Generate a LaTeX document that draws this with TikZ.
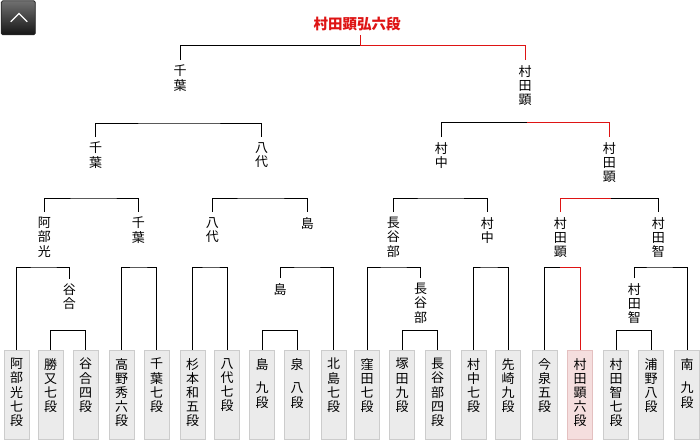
\documentclass[tikz,border=0pt]{standalone}
\usepackage{fontspec}
\usetikzlibrary{calc}
\newfontfamily\jp{Noto Sans CJK JP}
\definecolor{winred}{RGB}{222,20,20}
\definecolor{boxfill}{RGB}{235,235,235}
\definecolor{boxline}{RGB}{204,204,204}
\definecolor{hlfill}{RGB}{245,222,222}
\definecolor{hlline}{RGB}{228,192,192}
\tikzset{
  bline/.style={draw=black, line width=1pt},
  rline/.style={draw=winred, line width=1pt},
  lbl/.style={font=\jp\fontsize{13}{14.2}\selectfont, align=center, inner xsep=0pt, inner ysep=5pt, anchor=north},
  leaf/.style={draw=boxline, fill=boxfill, minimum width=25pt, minimum height=89pt, inner sep=0pt, anchor=north, line width=0.8pt},
  hleaf/.style={leaf, draw=hlline, fill=hlfill},
  ltext/.style={font=\jp\fontsize{13}{14.2}\selectfont, align=center, inner sep=0pt, anchor=north},
  champ/.style={font=\jp\bfseries\fontsize{14.5}{16}\selectfont, text=winred, inner xsep=0pt, inner ysep=4pt},
  btn/.style={draw=black!85, rounded corners=1.5pt, minimum width=34pt, minimum height=34pt, top color={rgb,255:red,112;green,112;blue,112}, bottom color={rgb,255:red,22;green,22;blue,22}, line width=0.8pt}
}
\begin{document}
\begin{tikzpicture}[x=1pt,y=-1pt]
\useasboundingbox (0,0) rectangle (700,440);
% button
\node[btn] (btn) at (18.3,17.8) {};
\draw[white, line width=1.2pt] ($(btn.center)+(-7.6,4)$) -- ($(btn.center)+(0.7,-4.4)$) -- ($(btn.center)+(9,4)$);
% champion
\node[champ] (champ) at (357,24) {村田顕弘六段};
% leaves
\node[leaf] (b0) at (16.5,350) {};
\node[leaf] (b1) at (50.5,350) {};
\node[leaf] (b2) at (85.5,350) {};
\node[leaf] (b3) at (121.5,350) {};
\node[leaf] (b4) at (156.5,350) {};
\node[leaf] (b5) at (192.5,350) {};
\node[leaf] (b6) at (227,350) {};
\node[leaf] (b7) at (262,350) {};
\node[leaf] (b8) at (297,350) {};
\node[leaf] (b9) at (333.5,350) {};
\node[leaf] (b10) at (367,350) {};
\node[leaf] (b11) at (402,350) {};
\node[leaf] (b12) at (437.5,350) {};
\node[leaf] (b13) at (473.5,350) {};
\node[leaf] (b14) at (508,350) {};
\node[leaf] (b15) at (544.5,350) {};
\node[hleaf] (b16) at (580,350) {};
\node[leaf] (b17) at (616,350) {};
\node[leaf] (b18) at (651,350) {};
\node[leaf] (b19) at (687,350) {};
\node[ltext] (t0) at (16.5,358) {阿\\部\\光\\七\\段};
\node[ltext] (t1) at (50.5,358) {勝\\又\\七\\段};
\node[ltext] (t2) at (85.5,358) {谷\\合\\四\\段};
\node[ltext] (t3) at (121.5,358) {高\\野\\秀\\六\\段};
\node[ltext] (t4) at (156.5,358) {千\\葉\\七\\段};
\node[ltext] (t5) at (192.5,358) {杉\\本\\和\\五\\段};
\node[ltext] (t6) at (227,358) {八\\代\\七\\段};
\node[ltext] (t7) at (262,358) {島\\[9.5pt]九\\段};
\node[ltext] (t8) at (297,358) {泉\\[9.5pt]八\\段};
\node[ltext] (t9) at (333.5,358) {北\\島\\七\\段};
\node[ltext] (t10) at (367,358) {窪\\田\\七\\段};
\node[ltext] (t11) at (402,358) {塚\\田\\九\\段};
\node[ltext] (t12) at (437.5,358) {長\\谷\\部\\四\\段};
\node[ltext] (t13) at (473.5,358) {村\\中\\七\\段};
\node[ltext] (t14) at (508,358) {先\\崎\\九\\段};
\node[ltext] (t15) at (544.5,358) {今\\泉\\五\\段};
\node[ltext] (t16) at (580,358) {村\\田\\顕\\六\\段};
\node[ltext] (t17) at (616,358) {村\\田\\智\\七\\段};
\node[ltext] (t18) at (651,358) {浦\\野\\八\\段};
\node[ltext] (t19) at (687,358) {南\\[9.5pt]九\\段};
% labels
\node[lbl] (B1) at (180,60) {千\\葉};
\node[lbl] (B2) at (525,60) {村\\田\\顕};
\node[lbl] (C1) at (95.7,137) {千\\葉};
\node[lbl] (C2) at (261.7,137) {八\\代};
\node[lbl] (C3) at (441.3,137) {村\\中};
\node[lbl] (C4) at (609.3,137) {村\\田\\顕};
\node[lbl] (D1) at (44.3,212) {阿\\部\\光};
\node[lbl] (D2) at (138.3,212) {千\\葉};
\node[lbl] (D3) at (212.3,212) {八\\代};
\node[lbl] (D4) at (307.3,212) {島};
\node[lbl] (D5) at (393.3,212) {長\\谷\\部};
\node[lbl] (D6) at (487.3,212) {村\\中};
\node[lbl] (D7) at (560.3,212) {村\\田\\顕};
\node[lbl] (D8) at (658.3,212) {村\\田\\智};
\node[lbl] (E1) at (69.3,278.5) {谷\\合};
\node[lbl] (E2) at (280,278) {島};
\node[lbl] (E3) at (420.7,278) {長\\谷\\部};
\node[lbl] (E4) at (634.3,278) {村\\田\\智};
% bracket junctions
\coordinate (mTop) at (360,45);
\coordinate (mB1) at (180,123);
\coordinate (mB2) at (527,122.5);
\coordinate (mC1) at (95.7,198);
\coordinate (mC2) at (261.7,198);
\coordinate (mC3) at (441.3,198);
\coordinate (mC4) at (611,198.5);
\coordinate (mD1) at (44.3,267);
\coordinate (mD2) at (138.3,267);
\coordinate (mD3) at (212.3,267);
\coordinate (mD4) at (307.3,267);
\coordinate (mD5) at (393.3,267);
\coordinate (mD6) at (487.3,267);
\coordinate (mD7) at (559.5,267);
\coordinate (mD8) at (658.3,267);
\coordinate (mE1) at (69.3,330.5);
\coordinate (mE2) at (280,330.5);
\coordinate (mE3) at (420.7,330.5);
\coordinate (mE4) at (634.3,330.5);
% connectors
\draw[bline] (B1.north) |- (mTop);
\draw[rline] (mTop) -| (B2.north);
\draw[rline] (mTop) -- (mTop |- champ.south);
\draw[bline] (C1.north) |- (mB1) -| (C2.north);
\draw[bline] (C3.north) |- (mB2);
\draw[rline] (mB2) -| (C4.north);
\draw[bline] (D1.north) |- (mC1) -| (D2.north);
\draw[bline] (D3.north) |- (mC2) -| (D4.north);
\draw[bline] (D5.north) |- (mC3) -| (D6.north);
\draw[bline] (mC4) -| (D8.north);
\draw[rline] (D7.north) |- (mC4);
\draw[bline] (b0.north) |- (mD1) -| (E1.north);
\draw[bline] (b3.north) |- (mD2) -| (b4.north);
\draw[bline] (b5.north) |- (mD3) -| (b6.north);
\draw[bline] (E2.north) |- (mD4) -| (b9.north);
\draw[bline] (b10.north) |- (mD5) -| (E3.north);
\draw[bline] (b13.north) |- (mD6) -| (b14.north);
\draw[bline] (b15.north) |- (mD7);
\draw[rline] (mD7) -| (b16.north);
\draw[bline] (E4.north) |- (mD8) -| (b19.north);
\draw[bline] (b1.north) |- (mE1) -| (b2.north);
\draw[bline] (b7.north) |- (mE2) -| (b8.north);
\draw[bline] (b11.north) |- (mE3) -| (b12.north);
\draw[bline] (b17.north) |- (mE4) -| (b18.north);
\end{tikzpicture}
\end{document}
